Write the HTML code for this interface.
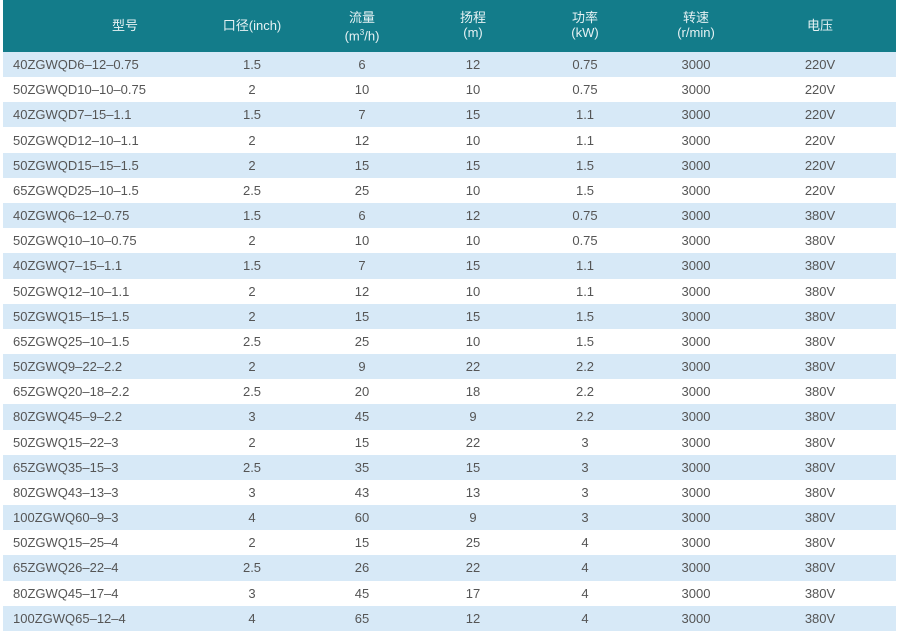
<!DOCTYPE html>
<html><head><meta charset="utf-8"><style>
body{margin:0;width:900px;height:632px;background:#fff;font-family:"Liberation Sans","Noto Sans CJK SC",sans-serif;overflow:hidden;position:relative}
.h{position:absolute;left:3px;top:0;width:893px;height:52px;background:#137c8a}
.r{position:absolute;left:3px;width:893px;height:25.17px}
.b{background:#d7e9f7}
.c{position:absolute;transform:translateX(-50%);white-space:nowrap;font-size:13px;color:#555;line-height:25px}
.l{position:absolute;left:10px;font-size:13px;color:#555;line-height:25px}
.hc{position:absolute;transform:translateX(-50%);color:#e6f2f4;font-size:13px;text-align:center;line-height:15px}
</style></head><body>
<div class="h">
<div class="hc" style="left:122px;top:18px">型号</div>
<div class="hc" style="left:249px;top:18px">口径(inch)</div>
<div class="hc" style="left:359px;top:10px">流量<br>(m<sup style="font-size:8px">3</sup>/h)</div>
<div class="hc" style="left:470px;top:10px">扬程<br>(m)</div>
<div class="hc" style="left:582px;top:10px">功率<br>(kW)</div>
<div class="hc" style="left:693px;top:10px">转速<br>(r/min)</div>
<div class="hc" style="left:817px;top:18px">电压</div>
</div>
<div id="t"></div>
<script>
var d=[["40ZGWQD6-12-0.75","1.5","6","12","0.75","220V"],["50ZGWQD10-10-0.75","2","10","10","0.75","220V"],["40ZGWQD7-15-1.1","1.5","7","15","1.1","220V"],["50ZGWQD12-10-1.1","2","12","10","1.1","220V"],["50ZGWQD15-15-1.5","2","15","15","1.5","220V"],["65ZGWQD25-10-1.5","2.5","25","10","1.5","220V"],["40ZGWQ6-12-0.75","1.5","6","12","0.75","380V"],["50ZGWQ10-10-0.75","2","10","10","0.75","380V"],["40ZGWQ7-15-1.1","1.5","7","15","1.1","380V"],["50ZGWQ12-10-1.1","2","12","10","1.1","380V"],["50ZGWQ15-15-1.5","2","15","15","1.5","380V"],["65ZGWQ25-10-1.5","2.5","25","10","1.5","380V"],["50ZGWQ9-22-2.2","2","9","22","2.2","380V"],["65ZGWQ20-18-2.2","2.5","20","18","2.2","380V"],["80ZGWQ45-9-2.2","3","45","9","2.2","380V"],["50ZGWQ15-22-3","2","15","22","3","380V"],["65ZGWQ35-15-3","2.5","35","15","3","380V"],["80ZGWQ43-13-3","3","43","13","3","380V"],["100ZGWQ60-9-3","4","60","9","3","380V"],["50ZGWQ15-25-4","2","15","25","4","380V"],["65ZGWQ26-22-4","2.5","26","22","4","380V"],["80ZGWQ45-17-4","3","45","17","4","380V"],["100ZGWQ65-12-4","4","65","12","4","380V"]];
var x=[249,359,470,582,693,817],h="";
d.forEach(function(r,i){var top=52+i*25.17;h+='<div class="r'+(i%2==0?' b':'')+'" style="top:'+top+'px"><div class="l">'+r[0].replace(/-/g,'–')+'</div>';
var v=[r[1],r[2],r[3],r[4],"3000",r[5]];v.forEach(function(s,j){h+='<div class="c" style="left:'+x[j]+'px">'+s+'</div>'});h+='</div>'});
document.getElementById('t').innerHTML=h;
</script>
</body></html>
